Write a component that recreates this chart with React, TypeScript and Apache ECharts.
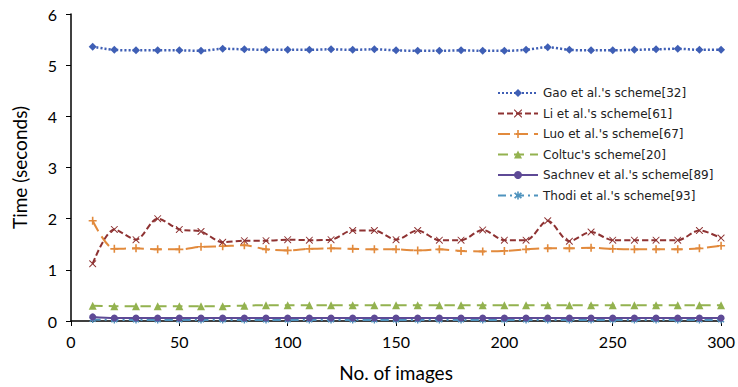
import React, { useEffect, useRef } from "react";
import * as echarts from "echarts";

const xValues = [10, 20, 30, 40, 50, 60, 70, 80, 90, 100, 110, 120, 130, 140, 150, 160, 170, 180, 190, 200, 210, 220, 230, 240, 250, 260, 270, 280, 290, 300];
const gao = [5.36, 5.30, 5.29, 5.29, 5.29, 5.28, 5.32, 5.31, 5.30, 5.30, 5.30, 5.31, 5.30, 5.31, 5.29, 5.28, 5.28, 5.29, 5.28, 5.28, 5.30, 5.35, 5.30, 5.29, 5.29, 5.30, 5.31, 5.32, 5.30, 5.30];
const li = [1.12, 1.79, 1.59, 2.0, 1.79, 1.75, 1.54, 1.57, 1.57, 1.59, 1.58, 1.59, 1.77, 1.77, 1.59, 1.77, 1.58, 1.58, 1.78, 1.58, 1.58, 1.96, 1.56, 1.74, 1.58, 1.58, 1.58, 1.58, 1.77, 1.62];
const luo = [1.96, 1.41, 1.42, 1.4, 1.4, 1.45, 1.46, 1.48, 1.4, 1.38, 1.41, 1.42, 1.41, 1.4, 1.4, 1.38, 1.4, 1.37, 1.36, 1.37, 1.4, 1.42, 1.42, 1.43, 1.41, 1.4, 1.4, 1.4, 1.42, 1.47];
const coltuc = [0.30, 0.29, 0.29, 0.29, 0.29, 0.29, 0.29, 0.30, 0.31, 0.31, 0.31, 0.31, 0.31, 0.31, 0.31, 0.31, 0.31, 0.31, 0.31, 0.31, 0.31, 0.31, 0.31, 0.31, 0.31, 0.31, 0.31, 0.31, 0.31, 0.31];
const sachnev = [0.08, 0.06, 0.06, 0.06, 0.06, 0.06, 0.06, 0.06, 0.06, 0.06, 0.06, 0.06, 0.06, 0.06, 0.06, 0.06, 0.06, 0.06, 0.06, 0.06, 0.06, 0.06, 0.06, 0.06, 0.06, 0.06, 0.06, 0.06, 0.06, 0.06];
const thodi = [0.03, 0.02, 0.02, 0.02, 0.02, 0.02, 0.02, 0.02, 0.02, 0.02, 0.02, 0.02, 0.02, 0.02, 0.02, 0.02, 0.02, 0.02, 0.02, 0.02, 0.02, 0.02, 0.02, 0.02, 0.02, 0.02, 0.02, 0.02, 0.02, 0.02];
const seriesNames = [
  "Gao et al.'s scheme[32]",
  "Li et al.'s scheme[61]",
  "Luo et al.'s scheme[67]",
  "Coltuc's scheme[20]",
  "Sachnev et al.'s scheme[89]",
  "Thodi et al.'s scheme[93]",
];

const CROSS = "path://M0,0 L1,0 L10,9 L10,10 L9,10 L0,1 Z M9,0 L10,0 L10,1 L1,10 L0,10 L0,9 Z";
const PLUS = "path://M4,0 L6,0 L6,4 L10,4 L10,6 L6,6 L6,10 L4,10 L4,6 L0,6 L0,4 L4,4 Z";
const STAR = "path://M4,0 L6,0 L6,3 L8.5,1 L10,2.5 L7,5 L10,7.5 L8.5,9 L6,7 L6,10 L4,10 L4,7 L1.5,9 L0,7.5 L3,5 L0,2.5 L1.5,1 L4,3 Z";

function pairs(vals: number[]) {
  return xValues.map((x, i) => [x, vals[i]]);
}

export default function App() {
  const ref = useRef<HTMLDivElement>(null);
  useEffect(() => {
    if (!ref.current) return;
    const chart = echarts.init(ref.current, undefined, { renderer: "svg" });
    const font = "Lato, 'Open Sans', sans-serif";
    const defs = [
      { data: gao, color: "#3F5FB5", lt: [2, 2] as any, w: 2.5, sym: "diamond", sz: 8 },
      { data: li, color: "#8E3232", lt: [6, 3] as any, w: 2, sym: CROSS, sz: 7 },
      { data: luo, color: "#E28A3C", lt: [12, 6] as any, w: 2, sym: PLUS, sz: 8 },
      { data: coltuc, color: "#93B24F", lt: [10, 6] as any, w: 2, sym: "triangle", sz: 8 },
      { data: sachnev, color: "#5E4A96", lt: "solid" as any, w: 2, sym: "circle", sz: 7 },
      { data: thodi, color: "#4F93BE", lt: [8, 4, 2, 4] as any, w: 2, sym: STAR, sz: 7 },
    ];
    chart.setOption({
      animation: false,
      backgroundColor: "#ffffff",
      grid: { left: 71, right: 10, top: 14, bottom: 65.5 },
      legend: {
        orient: "vertical",
        left: 492,
        top: 82,
        itemWidth: 40,
        itemHeight: 10,
        itemGap: 8.5,
        textStyle: { fontFamily: "'DejaVu Sans', Verdana, sans-serif", fontSize: 12, color: "#222" },
        data: seriesNames,
      },
      xAxis: {
        type: "value",
        min: 0,
        max: 300,
        interval: 50,
        name: "No. of images",
        nameLocation: "middle",
        nameGap: 42,
        nameTextStyle: { fontFamily: font, fontSize: 19, color: "#000" },
        axisLine: { show: true, lineStyle: { color: "#000", width: 1.5 } },
        axisTick: { show: true, length: 5, lineStyle: { color: "#000" } },
        axisLabel: { fontFamily: font, fontSize: 16, color: "#000", margin: 12 },
        splitLine: { show: false },
      },
      yAxis: {
        type: "value",
        min: 0,
        max: 6,
        interval: 1,
        name: "Time (seconds)",
        nameLocation: "middle",
        nameGap: 42,
        nameRotate: 90,
        nameTextStyle: { fontFamily: font, fontSize: 19, color: "#000" },
        axisLine: { show: true, lineStyle: { color: "#000", width: 1.5 } },
        axisTick: { show: true, length: 5, lineStyle: { color: "#000" } },
        axisLabel: { fontFamily: font, fontSize: 16, color: "#000", margin: 14 },
        splitLine: { show: false },
      },
      series: defs.map((d, i) => ({
        name: seriesNames[i],
        type: "line",
        data: pairs(d.data),
        smooth: 0.3,
        symbol: d.sym,
        symbolSize: d.sz,
        showSymbol: true,
        itemStyle: { color: d.color, borderWidth: 0 },
        lineStyle: { color: d.color, width: d.w, type: d.lt },
        z: 10 - i,
      })),
    });
    return () => chart.dispose();
  }, []);
  return <div ref={ref} style={{ position: "fixed", left: 0, top: 0, width: 738, height: 387 }} />;
}
